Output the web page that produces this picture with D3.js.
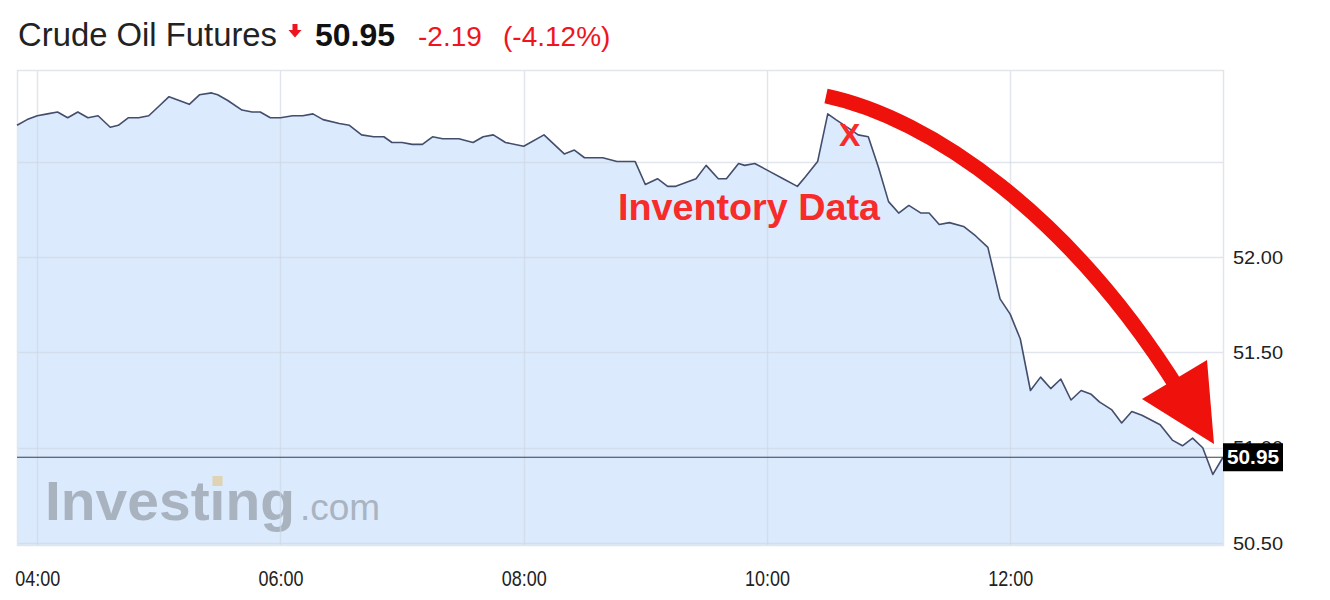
<!DOCTYPE html>
<html>
<head>
<meta charset="utf-8">
<script src="https://cdn.jsdelivr.net/npm/d3@7"></script>
<style>
  html, body { margin: 0; padding: 0; background: #fff; }
  svg { display: block; font-family: "Liberation Sans", Arial, sans-serif; }
</style>
</head>
<body>
<svg id="chart" width="1330" height="600"></svg>
<script>
// ---- data ----
const times = [
  "03:50","03:55","04:00","04:05","04:10","04:15","04:20","04:25","04:30","04:36",
  "04:40","04:45","04:50","04:55","05:00","05:05","05:10","05:15","05:20","05:26",
  "05:29","05:34","05:41","05:46","05:50","05:55","06:00","06:06","06:11","06:16",
  "06:21","06:29","06:34","06:40","06:46","06:51","06:55","07:00","07:05","07:10",
  "07:15","07:20","07:28","07:35","07:40","07:45","07:51","08:00","08:10","08:20",
  "08:25","08:30","08:39","08:46","08:55","09:00","09:06","09:11","09:15","09:20",
  "09:25","09:30","09:36","09:40","09:46","09:49","09:54","10:01","10:08","10:15",
  "10:19","10:25","10:30","10:34","10:41","10:45","10:50","10:55","11:00","11:05",
  "11:10","11:16","11:20","11:25","11:30","11:37","11:43","11:49","11:55","12:00",
  "12:05","12:10","12:15","12:20","12:25","12:30","12:35","12:40","12:44","12:50",
  "12:55","13:00","13:05","13:14","13:20","13:25","13:30","13:35","13:40","13:45"
];
const prices = [
  52.69,52.72,52.74,52.75,52.76,52.73,52.76,52.73,52.74,52.68,
  52.69,52.73,52.73,52.74,52.79,52.84,52.82,52.80,52.85,52.86,
  52.85,52.82,52.77,52.76,52.76,52.73,52.73,52.74,52.74,52.75,
  52.72,52.70,52.69,52.64,52.63,52.63,52.60,52.60,52.59,52.59,
  52.63,52.62,52.62,52.60,52.63,52.64,52.60,52.58,52.64,52.54,
  52.56,52.52,52.52,52.50,52.50,52.38,52.41,52.37,52.37,52.39,
  52.41,52.48,52.41,52.41,52.49,52.48,52.49,52.45,52.41,52.37,
  52.42,52.50,52.75,52.72,52.67,52.64,52.63,52.47,52.29,52.23,
  52.27,52.23,52.23,52.17,52.18,52.16,52.11,52.05,51.78,51.70,
  51.57,51.30,51.37,51.31,51.36,51.25,51.30,51.28,51.24,51.20,
  51.13,51.19,51.17,51.12,51.04,51.01,51.05,51.00,50.86,50.95
];
const xTickLabels = ["04:00","06:00","08:00","10:00","12:00"];
const yTickValues = [50.5, 51.0, 51.5, 52.0];
const yGridValues = [50.5, 51.0, 51.5, 52.0, 52.5];
const timeDomain = ["03:50","13:45"];
const priceDomain = [50.49, 52.98];
const title = "Crude Oil Futures";
const lastPrice = 50.95;
const change = "-2.19";
const changePct = "(-4.12%)";
const annotationText = "Inventory Data";
const markerText = "X";
const markerTime = "10:30";

// ---- layout ----
const L = 17, R = 1223, T = 70, B = 545;
const parse = d3.timeParse("%H:%M");
const data = times.map((t, i) => ({ t: parse(t), v: prices[i] }));

const svg = d3.select("#chart");
const x = d3.scaleTime().domain(timeDomain.map(parse)).range([L, R]);
const y = d3.scaleLinear().domain(priceDomain).range([B, T]);

// area
svg.append("path")
  .datum(data)
  .attr("fill", "#dbeafd")
  .attr("d", d3.area().x(d => x(d.t)).y0(B).y1(d => y(d.v)));

// logo watermark
const logo = svg.append("g");
const inv = logo.append("text")
  .attr("x", 45).attr("y", 520)
  .attr("font-size", 56).attr("font-weight", "bold")
  .attr("fill", "#a9b2bf")
  .attr("textLength", 250).attr("lengthAdjust", "spacingAndGlyphs")
  .text("Investing");
logo.append("text")
  .attr("x", 300).attr("y", 520)
  .attr("font-size", 37)
  .attr("fill", "#aab3c0")
  .text(".com");
try {
  const ext = inv.node().getExtentOfChar(6);
  logo.append("rect")
    .attr("x", ext.x + ext.width/2 - 5).attr("y", 476)
    .attr("width", 10).attr("height", 10)
    .attr("fill", "#dfd3b3");
} catch (e) {}

// grid
const gridColor = "#cdd6e3";
svg.append("g").selectAll("line").data(yGridValues).join("line")
  .attr("x1", L).attr("x2", R)
  .attr("y1", d => Math.round(y(d)) + 0.5).attr("y2", d => Math.round(y(d)) + 0.5)
  .attr("stroke", gridColor).attr("stroke-opacity", 0.6).attr("stroke-width", 1.5);
svg.append("g").selectAll("line").data(xTickLabels).join("line")
  .attr("x1", d => Math.round(x(parse(d))) + 0.5).attr("x2", d => Math.round(x(parse(d))) + 0.5)
  .attr("y1", T).attr("y2", B)
  .attr("stroke", gridColor).attr("stroke-opacity", 0.6).attr("stroke-width", 1.5);

// frame
svg.append("rect")
  .attr("x", L + 0.5).attr("y", T + 0.5)
  .attr("width", R - L).attr("height", B - T)
  .attr("fill", "none").attr("stroke", "#e2e5ea").attr("stroke-width", 1.5);

// price line
svg.append("path")
  .datum(data)
  .attr("fill", "none")
  .attr("stroke", "#434d6c")
  .attr("stroke-width", 1.6)
  .attr("stroke-linejoin", "round")
  .attr("d", d3.line().x(d => x(d.t)).y(d => y(d.v)));

// last price line
svg.append("line")
  .attr("x1", L).attr("x2", R)
  .attr("y1", y(lastPrice)).attr("y2", y(lastPrice))
  .attr("stroke", "#3a3f4a").attr("stroke-width", 1.2);

// x axis
const xAxis = d3.axisBottom(x)
  .tickValues(xTickLabels.map(parse))
  .tickFormat(d3.timeFormat("%H:%M"))
  .tickSize(0).tickPadding(25);
const gx = svg.append("g").attr("transform", `translate(0,${B})`).call(xAxis);
gx.select(".domain").remove();
gx.selectAll("text")
  .attr("font-family", "Liberation Sans, Arial, sans-serif")
  .attr("font-size", 22).attr("fill", "#222")
  .attr("textLength", 45).attr("lengthAdjust", "spacingAndGlyphs");

// y axis
const yAxis = d3.axisRight(y)
  .tickValues(yTickValues)
  .tickFormat(d3.format(".2f"))
  .tickSize(0).tickPadding(10);
const gy = svg.append("g").attr("transform", `translate(${R},0)`).call(yAxis);
gy.select(".domain").remove();
gy.selectAll("text")
  .attr("font-family", "Liberation Sans, Arial, sans-serif")
  .attr("font-size", 19).attr("fill", "#222")
  .attr("textLength", 50).attr("lengthAdjust", "spacingAndGlyphs");

// last price label
const ly = y(lastPrice);
svg.append("rect")
  .attr("x", R).attr("y", ly - 14).attr("width", 60).attr("height", 28)
  .attr("fill", "#000");
svg.append("text")
  .attr("x", R + 30).attr("y", ly + 7)
  .attr("text-anchor", "middle")
  .attr("font-size", 20).attr("font-weight", "bold").attr("fill", "#fff")
  .attr("textLength", 52).attr("lengthAdjust", "spacingAndGlyphs")
  .text(d3.format(".2f")(lastPrice));

// header
const red = "#f0141e";
svg.append("text").attr("x", 18).attr("y", 46)
  .attr("font-size", 33).attr("fill", "#222")
  .attr("textLength", 259).attr("lengthAdjust", "spacingAndGlyphs")
  .text(title);
svg.append("path")
  .attr("d", "M292.5,24 h5 v6 h4 l-6.5,7.5 l-6.5,-7.5 h4 z")
  .attr("fill", red);
svg.append("text").attr("x", 315).attr("y", 46)
  .attr("font-size", 32).attr("font-weight", "bold").attr("fill", "#111")
  .text(d3.format(".2f")(lastPrice));
svg.append("text").attr("x", 418).attr("y", 46)
  .attr("font-size", 28).attr("fill", red)
  .text(change);
svg.append("text").attr("x", 503).attr("y", 46)
  .attr("font-size", 28).attr("fill", red)
  .text(changePct);

// annotations
const annRed = "#f82b2b";
svg.append("text")
  .attr("x", x(parse(markerTime)) + 22).attr("y", 146)
  .attr("text-anchor", "middle")
  .attr("font-size", 32).attr("font-weight", "bold").attr("fill", annRed)
  .text(markerText);
svg.append("text")
  .attr("x", 618).attr("y", 220)
  .attr("font-size", 37).attr("font-weight", "bold").attr("fill", annRed)
  .attr("textLength", 262).attr("lengthAdjust", "spacingAndGlyphs")
  .text(annotationText);

// curved arrow
const arrowRed = "#ee110c";
svg.append("path")
  .attr("d", "M826,96 C930,118 1070,215 1180,392")
  .attr("fill", "none").attr("stroke", arrowRed).attr("stroke-width", 15);
svg.append("path")
  .attr("d", "M1142,399 L1207,360 L1214,444 Z")
  .attr("fill", arrowRed);
</script>
</body>
</html>
